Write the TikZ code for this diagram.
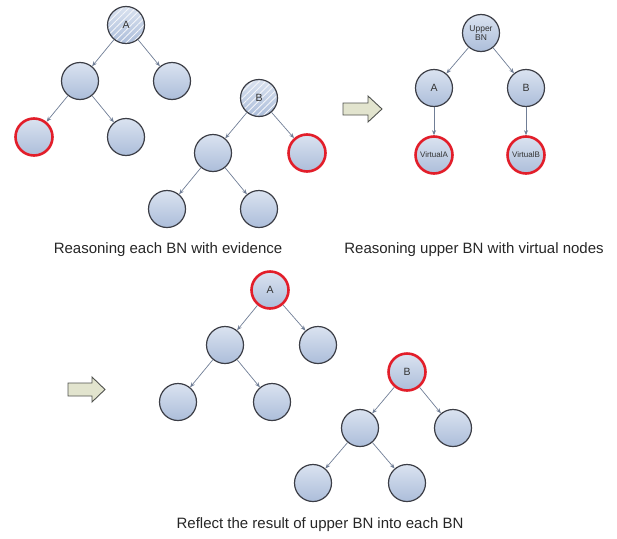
\documentclass[tikz,border=0pt]{standalone}
\usepackage{fontspec}
\setmainfont{Liberation Sans}
\usetikzlibrary{arrows.meta,patterns.meta,shadings}
\definecolor{nodetop}{RGB}{218,226,240}
\definecolor{nodebot}{RGB}{172,190,218}
\definecolor{nodeline}{RGB}{60,62,70}
\definecolor{evred}{RGB}{226,30,42}
\definecolor{edgecol}{RGB}{112,126,150}
\definecolor{blockfill}{RGB}{226,228,206}
\definecolor{blockline}{RGB}{80,82,78}
\tikzset{
  bn/.style={circle, minimum size=37pt, inner sep=0pt, draw=nodeline, line width=1.2pt,
    top color=nodetop, bottom color=nodebot, font=\fontsize{10.5}{11}\selectfont, text=black!80},
  evid/.style={bn, draw=evred, line width=2.6pt},
  hatch/.style={bn, path picture={\fill[pattern={Lines[angle=45,distance=4.5pt,line width=0.9pt]}, pattern color=white!70!nodetop]
      (path picture bounding box.south west) rectangle (path picture bounding box.north east);}},
  small/.style={font=\fontsize{8.5}{9}\selectfont},
  tiny/.style={font=\fontsize{8}{9}\selectfont},
  link/.style={draw=edgecol, line width=0.7pt, -{Stealth[length=5pt,width=4pt]}},
  caption/.style={font=\fontsize{15}{17}\selectfont, text=black!85, inner sep=0pt},
  block/.style={draw=blockline, line width=0.9pt, fill=blockfill, line join=miter}
}
\begin{document}
\begin{tikzpicture}[x=1pt,y=-1pt]
\useasboundingbox (0,0) rectangle (617,538);
% top-left tree A
\node[hatch] (a1) at (126,25) {A};
\node[bn] (a2) at (80,81) {};
\node[bn] (a3) at (172,81) {};
\node[evid] (a4) at (34,137) {};
\node[bn] (a5) at (126,137) {};
\draw[link] (a1) -- (a2);
\draw[link] (a1) -- (a3);
\draw[link] (a2) -- (a4);
\draw[link] (a2) -- (a5);
% tree B
\node[hatch] (b1) at (259,98) {B};
\node[bn] (b2) at (213,153) {};
\node[evid] (b3) at (307,153) {};
\node[bn] (b4) at (167,209) {};
\node[bn] (b5) at (259,209) {};
\draw[link] (b1) -- (b2);
\draw[link] (b1) -- (b3);
\draw[link] (b2) -- (b4);
\draw[link] (b2) -- (b5);
% upper BN
\node[bn, small, align=center] (u0) at (481,33) {Upper\\BN};
\node[bn] (u1) at (434,88) {A};
\node[bn] (u2) at (526,88) {B};
\node[evid, tiny] (v1) at (434,155) {VirtualA};
\node[evid, tiny] (v2) at (526,155) {VirtualB};
\draw[link] (u0) -- (u1);
\draw[link] (u0) -- (u2);
\draw[link] (u1) -- (v1);
\draw[link] (u2) -- (v2);
% block arrows
\draw[block] (343,103) -- (368,103) -- (368,96) -- (382,109) -- (368,122) -- (368,115) -- (343,115) -- cycle;
\draw[block] (68,383) -- (92,383) -- (92,377) -- (105,389.5) -- (92,402) -- (92,396) -- (68,396) -- cycle;
% captions
\node[caption] (cap1) at (168,250) {Reasoning each BN with evidence};
\node[caption] (cap2) at (474,250) {Reasoning upper BN with virtual nodes};
\node[caption] (cap3) at (320,525) {Reflect the result of upper BN into each BN};
% bottom tree A
\node[evid] (c1) at (270,290) {A};
\node[bn] (c2) at (225,345) {};
\node[bn] (c3) at (318,345) {};
\node[bn] (c4) at (178,402) {};
\node[bn] (c5) at (272,402) {};
\draw[link] (c1) -- (c2);
\draw[link] (c1) -- (c3);
\draw[link] (c2) -- (c4);
\draw[link] (c2) -- (c5);
% bottom tree B
\node[evid] (d1) at (407,372) {B};
\node[bn] (d2) at (360,428) {};
\node[bn] (d3) at (453,428) {};
\node[bn] (d4) at (313,483) {};
\node[bn] (d5) at (407,483) {};
\draw[link] (d1) -- (d2);
\draw[link] (d1) -- (d3);
\draw[link] (d2) -- (d4);
\draw[link] (d2) -- (d5);
\end{tikzpicture}
\end{document}
